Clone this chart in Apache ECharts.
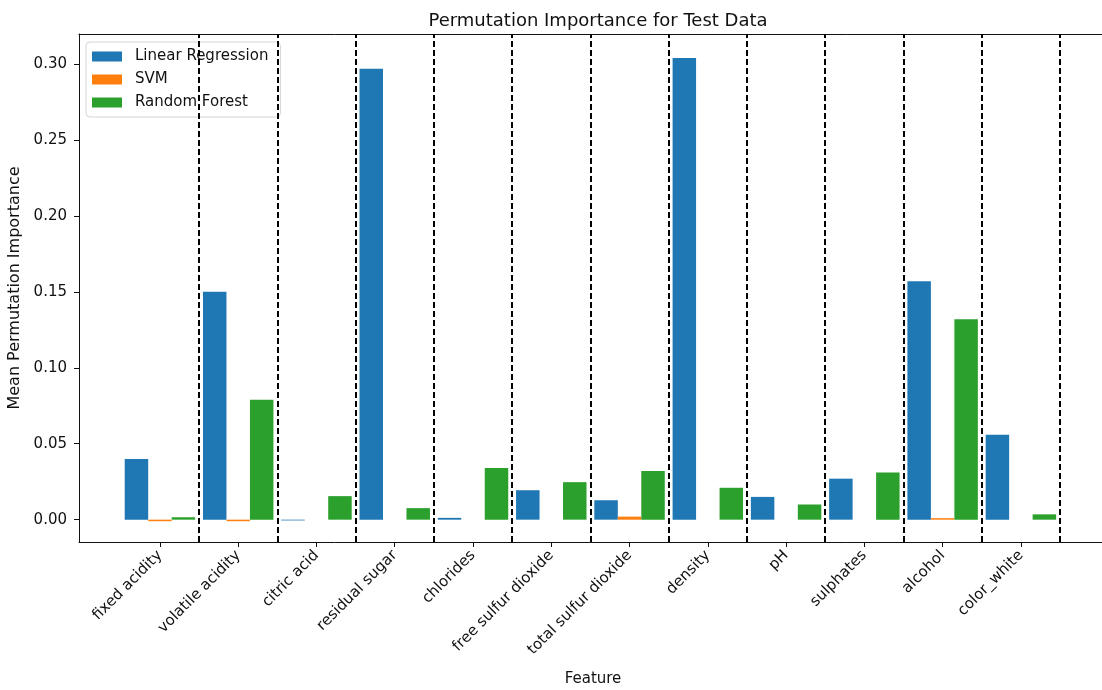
<!DOCTYPE html>
<html>
<head>
<meta charset="utf-8">
<title>Permutation Importance for Test Data</title>
<script src="https://cdn.jsdelivr.net/npm/echarts@6/dist/echarts.min.js"></script>
<style>
  html, body { margin: 0; padding: 0; background: #fff; }
  #chart { width: 1102px; height: 690px; }
</style>
</head>
<body>
<div id="chart"></div>
<script>
// Wine features and mean permutation importance per model
const features = ['fixed acidity', 'volatile acidity', 'citric acid', 'residual sugar',
  'chlorides', 'free sulfur dioxide', 'total sulfur dioxide', 'density', 'pH',
  'sulphates', 'alcohol', 'color_white'];
const linearRegression = [0.040, 0.150, -0.0005, 0.297, 0.0012, 0.0194, 0.0128, 0.304, 0.015, 0.027, 0.157, 0.056];
const svm = [-0.001, -0.001, 0.0, 0.0, 0.0, 0.0, 0.002, 0.0, 0.0, 0.0, 0.001, 0.0];
const randomForest = [0.0016, 0.079, 0.0155, 0.0076, 0.034, 0.0247, 0.032, 0.021, 0.010, 0.031, 0.132, 0.0035];
const yTicks = [0, 0.05, 0.10, 0.15, 0.20, 0.25, 0.30];
const modelNames = ['Linear Regression', 'SVM', 'Random Forest'];

const BAR_W = 0.3;
const X_MIN = -1.034, X_MAX = 12.1;
const colors = ['#1f77b4', '#ff7f0e', '#2ca02c'];
const font = 'DejaVu Sans';
const featureIdx = features.map((_, i) => i);
const separators = features.map((_, i) => i + 0.5);

function barSeries(name, values, offset, color, extra) {
  return Object.assign({
    name: name,
    type: 'custom',
    itemStyle: { color: color },
    clip: true,
    renderItem: function (params, api) {
      const x = api.value(0);
      const v = api.value(1);
      const a = api.coord([x - BAR_W / 2, 0]);
      const b = api.coord([x + BAR_W / 2, v]);
      return {
        type: 'rect',
        shape: {
          x: a[0],
          y: Math.min(a[1], b[1]),
          width: b[0] - a[0],
          height: Math.abs(b[1] - a[1])
        },
        style: { fill: color }
      };
    },
    encode: { x: 0, y: 1 },
    data: values.map((v, i) => [i + offset, v])
  }, extra || {});
}

const chart = echarts.init(document.getElementById('chart'), null, { renderer: 'canvas' });
chart.setOption({
  animation: false,
  color: colors,
  textStyle: { fontFamily: font },
  title: {
    text: 'Permutation Importance for Test Data',
    left: 593, top: 7, textAlign: 'center',
    textStyle: { fontFamily: font, fontSize: 18, fontWeight: 'normal', color: '#111' }
  },
  grid: {
    left: 79, top: 34, width: 1028, height: 508,
    outerBoundsMode: 'none',
    containLabel: false,
    show: false
  },
  legend: {
    orient: 'vertical', left: 86, top: 42,
    data: modelNames,
    icon: 'rect', itemWidth: 30, itemHeight: 10, itemGap: 8,
    padding: [7, 12, 7, 6],
    backgroundColor: 'rgba(255,255,255,0.85)',
    borderColor: '#d5d5d5', borderWidth: 1, borderRadius: 4,
    textStyle: { fontFamily: font, fontSize: 15, color: '#111', padding: [0, 0, 0, 8] }
  },
  xAxis: [{
    type: 'value',
    min: X_MIN, max: X_MAX,
    name: 'Feature', nameLocation: 'middle', nameGap: 130,
    nameTextStyle: { fontFamily: font, fontSize: 15, color: '#111' },
    splitLine: { show: false },
    axisLine: { show: true, onZero: false, lineStyle: { color: '#111', width: 1 } },
    axisTick: { show: true, length: 5, lineStyle: { color: '#111' }, customValues: featureIdx },
    axisLabel: {
      customValues: featureIdx,
      rotate: 45, margin: 11,
      fontFamily: font, fontSize: 15, color: '#111',
      formatter: v => features[Math.round(v)] || ''
    }
  }, {
    // top spine
    type: 'value', position: 'top',
    min: X_MIN, max: X_MAX,
    splitLine: { show: false },
    axisLine: { show: true, onZero: false, lineStyle: { color: '#111', width: 1 } },
    axisTick: { show: false },
    axisLabel: { show: false }
  }],
  yAxis: {
    type: 'value',
    min: -0.0147, max: 0.3198,
    name: 'Mean Permutation Importance', nameLocation: 'middle', nameGap: 52,
    nameTextStyle: { fontFamily: font, fontSize: 16, color: '#111' },
    splitLine: { show: false },
    axisLine: { show: true, onZero: false, lineStyle: { color: '#111', width: 1 } },
    axisTick: { show: true, length: 5, lineStyle: { color: '#111' }, customValues: yTicks },
    axisLabel: {
      customValues: yTicks, margin: 12,
      fontFamily: font, fontSize: 15, color: '#111',
      formatter: v => v.toFixed(2)
    }
  },
  series: [
    barSeries(modelNames[0], linearRegression, -BAR_W, colors[0]),
    barSeries(modelNames[1], svm, 0, colors[1]),
    barSeries(modelNames[2], randomForest, BAR_W, colors[2], {
      markLine: {
        silent: true,
        symbol: 'none',
        label: { show: false },
        lineStyle: { color: '#000', type: [6, 3], width: 2 },
        data: separators.map(x => ({ xAxis: x }))
      }
    })
  ]
});
</script>
</body>
</html>
